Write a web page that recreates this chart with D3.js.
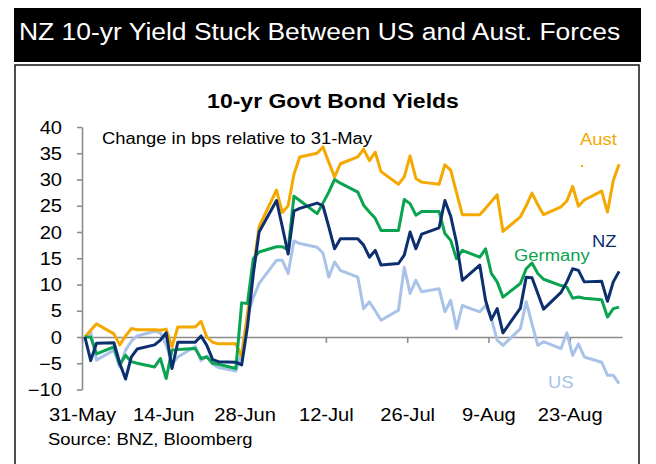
<!DOCTYPE html>
<html>
<head>
<meta charset="utf-8">
<script src="https://cdn.jsdelivr.net/npm/d3@7"></script>
<style>
  body { margin: 0; background: #fff; }
  svg text { font-family: "Liberation Sans", Arial, sans-serif; }
</style>
</head>
<body>
<div class="container"></div>
<script>
////////////////////////////////////////////////////////////////
// DATA (change in bps relative to 31-May, one value per business day)
////////////////////////////////////////////////////////////////
var startDay = new Date(2017, 4, 31);
var endDay = new Date(2017, 8, 1);
// business days 31-May .. 31-Aug
var days = d3.timeDay.range(startDay, endDay).filter(function(d) { return d.getDay() % 6 != 0; });

var aust = [0, 1.3, 2.5, 0.6, -1.5, 0.2, 1.6, 1.4, 1.4, 1.3, 1.5, -1.9, 1.9, 1.9, 3.0, 0, -1.0, -1.3, -1.3, -3.7,
  4.5, 13, 21, 28, 23.7, 25, 31, 34.3, 35, 36.2, 33.3, 30.5, 33, 34.3, 35.8, 33.6, 35.2, 31.5, 29.1, 30.5,
  34.5, 30.2, 29.5, 29.1, 32.8, 31.8, 27.5, 23.3, 23.3, 24.5, 25.8, 27.1, 20.1, 22.9, 25, 27.4, 25.2, 23.3,
  24.8, 25.9, 28.7, 24.9, 26.1, 27.8, 23.8, 29.8, 32.9];
var nz = [0, -4.5, -1.2, -1.1, -5, -8, -3.8, -2.3, -1.5, -0.6, 0.8, -6, -1, -1, 0.2, -1.6, -4.3, -4.7, -4.8, -5.3,
  2, 12, 20, 26, 21, 15.8, 24, 24.5, 25.5, 25, 21, 16.8, 18.7, 18.7, 17.5, 15.2, 16.5, 13.7, 14, 15.6,
  20, 16.8, 19.6, 20.8, 26, 23, 18, 10.8, 13.7, 7, 3.3, 5.4, 0.8, 5.5, 11.4, 11.3, 8.3, 5.3,
  8.5, 10.5, 13, 12.7, 10.5, 10.6, 6.8, 10.5, 12.5];
var germany = [0, 0, -3.2, -1.9, -5.3, -3.5, -4.7, -5.0, -5.7, -4.1, -7.9, -2.5, -2.4, -2.2, -4.1, -3.8, -5.0, -5.2, -6.0, 6.5,
  6.4, 14.9, 16.2, 17.2, 17.2, 16.6, 26.8, 26, 23.5, 25.5, 27.6, 30, 29.3, 27.6, 25.1, 23.8, 22.6, 20.3, 20.3, 26.2,
  25.4, 23.2, 23.9, 23.9, 19.7, 18.4, 14.9, 16.5, 15.2, 16.8, 12.1, 10.5, 7.6, 10.2, 13, 14.1, 12.1, 11,
  9.8, 9.5, 7.4, 7.6, 7.4, 7.1, 3.8, 5.4, 5.7];
var us = [0, 1, -4.4, -2.5, -5.7, -2.5, -0.8, 0.2, 1.1, 0.8, -1.5, -5.2, -3.8, -1.8, -4.5, -3.6, -5.2, -5.8, -6.5, -3,
  4, 7.5, 10.2, 14.6, 14.6, 12.1, 18.3, 17.8, 17.1, 16, 11.4, 14.3, 12.7, 11.4, 5.4, 6.7, 5, 3.2, 5.1, 13.3,
  8.3, 10.8, 8.6, 9.2, 4.8, 7, 1.6, 6, 4.8, 6, 3.5, -0.6, -1.6, 1.6, 6.7, 2.5, -1.6, -0.9,
  -2.2, 0.8, -3.5, -1.3, -3.8, -4.8, -7.3, -7.3, -8.9];

var seriesNames = ["US", "Aust", "Germany", "NZ"];
var seriesData = [us, aust, germany, nz];
var seriesColors = ["#a9c3e8", "#f5a800", "#0aa34f", "#0b2f6f"];
var yTicks = [-10, -5, 0, 5, 10, 15, 20, 25, 30, 35, 40];
var xTickDays = [new Date(2017, 4, 31), new Date(2017, 5, 14), new Date(2017, 5, 28), new Date(2017, 6, 12),
  new Date(2017, 6, 26), new Date(2017, 7, 9), new Date(2017, 7, 23)];

////////////////////////////////////////////////////////////////
// STAGE
////////////////////////////////////////////////////////////////
var W = 656, H = 464;
var svg = d3.select(".container").append("svg")
  .attr("width", W)
  .attr("height", H);

// horizontal stretch of the original export
var stretchK = 1.15;
function stretch(sel) {
  sel.each(function() {
    var w = this.getComputedTextLength();
    d3.select(this).attr("textLength", w * stretchK).attr("lengthAdjust", "spacingAndGlyphs");
  });
}

// black header bar
svg.append("rect")
  .attr("x", 14).attr("y", 8)
  .attr("width", 627).attr("height", 54)
  .attr("fill", "#000");
svg.append("text")
  .attr("class", "s")
  .attr("x", 19).attr("y", 40)
  .attr("fill", "#fff")
  .attr("font-size", 23)
  .text("NZ 10-yr Yield Stuck Between US and Aust. Forces");

// chart frame
svg.append("rect")
  .attr("x", 15).attr("y", 65)
  .attr("width", 624).attr("height", 420)
  .attr("fill", "none")
  .attr("stroke", "#222")
  .attr("stroke-width", 1.6);

svg.append("text")
  .attr("class", "s")
  .attr("x", 333).attr("y", 108)
  .attr("text-anchor", "middle")
  .attr("font-size", 20)
  .attr("font-weight", "bold")
  .text("10-yr Govt Bond Yields");

svg.append("text")
  .attr("class", "s")
  .attr("x", 102).attr("y", 144)
  .attr("font-size", 16)
  .text("Change in bps relative to 31-May");

////////////////////////////////////////////////////////////////
// SCALES & AXES
////////////////////////////////////////////////////////////////
var x = d3.scaleTime().domain([startDay, endDay]).range([82, 622]);
var y = d3.scaleLinear().domain([-10, 40]).range([389.5, 127]);
var axisGrey = "#8c8c8c";

var yAxis = svg.append("g")
  .attr("transform", "translate(82,0)")
  .call(d3.axisLeft(y).tickValues(yTicks).tickSize(5).tickSizeOuter(0).tickFormat(d3.format("d")));
yAxis.select(".domain").attr("stroke", axisGrey).attr("stroke-width", 1.6);
yAxis.selectAll(".tick line").attr("stroke", axisGrey).attr("stroke-width", 1.6);
yAxis.selectAll(".tick text")
  .attr("class", "s")
  .attr("x", -20)
  .attr("dy", "0.35em")
  .attr("fill", "#000")
  .attr("font-size", 17.5)
  .attr("font-family", null);

var xAxis = svg.append("g")
  .attr("transform", "translate(0," + y(0) + ")")
  .call(d3.axisBottom(x).tickValues(xTickDays).tickSize(6).tickSizeOuter(0).tickFormat(d3.timeFormat("%-d-%b")));
xAxis.select(".domain").attr("stroke", axisGrey).attr("stroke-width", 1.6);
xAxis.selectAll(".tick line").attr("stroke", axisGrey).attr("stroke-width", 1.6);
// labels sit low, under the -10 line
xAxis.selectAll(".tick text")
  .attr("class", "s")
  .attr("y", 421 - y(0))
  .attr("dy", 0)
  .attr("fill", "#000")
  .attr("font-size", 17.5)
  .attr("font-family", null);

////////////////////////////////////////////////////////////////
// LINES
////////////////////////////////////////////////////////////////
var line = d3.line()
  .x(function(d, i) { return x(d3.timeHour.offset(days[i], 12)); })
  .y(function(d) { return y(d); });

for (var s = 0; s < seriesData.length; s++) {
  svg.append("path")
    .datum(seriesData[s])
    .attr("fill", "none")
    .attr("stroke", seriesColors[s])
    .attr("stroke-width", 3)
    .attr("stroke-linejoin", "round")
    .attr("d", line);
}

////////////////////////////////////////////////////////////////
// SERIES LABELS
////////////////////////////////////////////////////////////////
var labelPos = { "Aust": [580, 145], "NZ": [592, 247], "Germany": [514, 261], "US": [548, 388] };
seriesNames.forEach(function(n, i) {
  svg.append("text")
    .attr("class", "s")
    .attr("x", labelPos[n][0]).attr("y", labelPos[n][1])
    .attr("fill", seriesColors[i])
    .attr("font-size", 16)
    .text(n);
});
// stray dot under the Aust label
svg.append("rect")
  .attr("x", 581).attr("y", 165).attr("width", 2).attr("height", 2)
  .attr("fill", seriesColors[1]);

svg.append("text")
  .attr("class", "s")
  .attr("x", 48).attr("y", 445)
  .attr("font-size", 16)
  .text("Source: BNZ, Bloomberg");

stretch(svg.selectAll("text.s"));
</script>
</body>
</html>
